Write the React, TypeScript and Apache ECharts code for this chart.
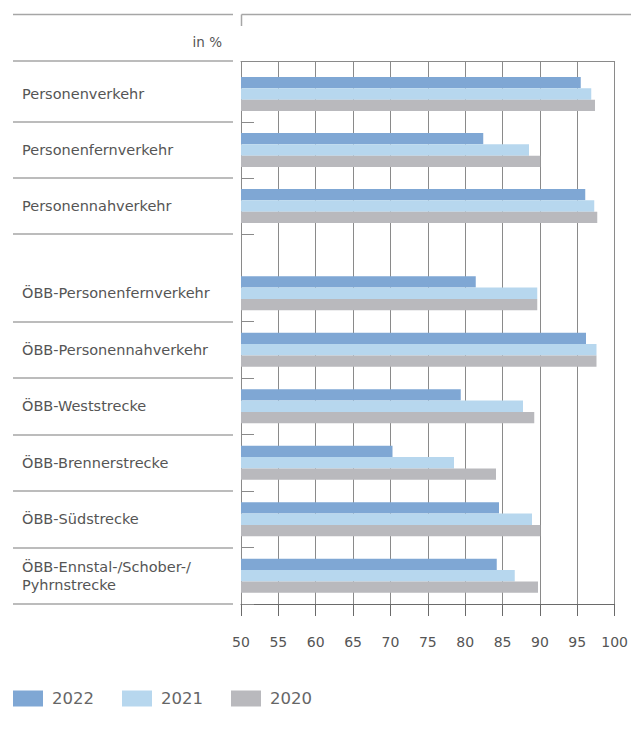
import React, { useEffect, useRef } from "react";
import * as echarts from "echarts";

const categoriesTop = ["Personenverkehr", "Personenfernverkehr", "Personennahverkehr"];
const categoriesBottom = [
  "ÖBB-Personenfernverkehr",
  "ÖBB-Personennahverkehr",
  "ÖBB-Weststrecke",
  "ÖBB-Brennerstrecke",
  "ÖBB-Südstrecke",
  "ÖBB-Ennstal-/Schober-/\nPyhrnstrecke",
];
const years = ["2022", "2021", "2020"];
const top2022 = [95.3, 82.3, 95.9];
const top2021 = [96.7, 88.4, 97.1];
const top2020 = [97.2, 89.9, 97.5];
const bottom2022 = [81.3, 96.0, 79.3, 70.2, 84.4, 84.1];
const bottom2021 = [89.5, 97.4, 87.6, 78.4, 88.8, 86.5];
const bottom2020 = [89.5, 97.4, 89.1, 84.0, 89.9, 89.6];
const axisMin = 50;
const axisMax = 100;
const axisStep = 5;
const unitLabel = "in %";

const COLORS = ["#7fa7d4", "#b7d7ee", "#b9b9bd"];
const FONT = "DejaVu Sans";

export default function App() {
  const ref = useRef<HTMLDivElement>(null);
  useEffect(() => {
    if (!ref.current) return;
    const chart = echarts.init(ref.current, undefined, { renderer: "svg" });

    const skipFirst = (i: number) => i !== 0;
    const primaryY = (data: string[]) => ({
      type: "category",
      data,
      inverse: true,
      position: "left",
      axisLine: { show: false },
      axisTick: { show: true, inside: true, length: 13, interval: skipFirst, lineStyle: { color: "#8a8a8a", width: 1 } },
      axisLabel: {
        interval: 0,
        align: "left",
        margin: 219,
        fontFamily: FONT,
        fontSize: 14.5,
        color: "#555",
        lineHeight: 17.5,
      },
      splitLine: { show: false },
    });
    const sepY = (data: string[]) => ({
      type: "category",
      data,
      inverse: true,
      position: "left",
      offset: 8,
      axisLine: { show: false },
      axisTick: { show: true, inside: false, length: 220, interval: skipFirst, lineStyle: { color: "#a6a6a6", width: 1.5 } },
      axisLabel: { show: false },
      splitLine: { show: false },
    });
    const hiddenX = (gridIndex: number) => ({
      type: "value",
      gridIndex,
      min: axisMin,
      max: axisMax,
      interval: axisStep,
      show: false,
      splitLine: { show: false },
    });

    const topSets = [top2022, top2021, top2020];
    const bottomSets = [bottom2022, bottom2021, bottom2020];
    const series: any[] = [];
    years.forEach((y, i) => {
      series.push({
        type: "bar",
        name: y,
        xAxisIndex: 2,
        yAxisIndex: 1,
        data: topSets[i],
        barWidth: 11.3,
        barGap: "0%",
        itemStyle: { color: COLORS[i] },
        silent: true,
      });
    });
    years.forEach((y, i) => {
      series.push({
        type: "bar",
        name: y,
        xAxisIndex: 3,
        yAxisIndex: 3,
        data: bottomSets[i],
        barWidth: 11.3,
        barGap: "0%",
        itemStyle: { color: COLORS[i] },
        silent: true,
      });
    });

    chart.setOption({
      animation: false,
      grid: [
        { left: 241, top: 61, width: 375, height: 543 },
        { left: 241, top: 66, width: 375, height: 168 },
        { left: 241, top: 265, width: 375, height: 339 },
      ],
      xAxis: [
        {
          type: "value",
          gridIndex: 0,
          position: "bottom",
          min: axisMin,
          max: axisMax,
          interval: axisStep,
          axisLine: { show: true, lineStyle: { color: "#6a6a6a", width: 1 } },
          axisTick: { show: true, inside: false, length: 12, lineStyle: { color: "#6a6a6a" } },
          axisLabel: { margin: 31, fontFamily: FONT, fontSize: 14, color: "#555" },
          splitLine: { show: true, lineStyle: { color: "#8a8a8a", width: 1 } },
        },
        {
          type: "value",
          gridIndex: 0,
          position: "top",
          min: axisMin,
          max: axisMax,
          interval: axisStep,
          axisLine: { show: true, lineStyle: { color: "#8a8a8a", width: 1 } },
          axisTick: { show: false },
          axisLabel: { show: false },
          splitLine: { show: false },
        },
        hiddenX(1),
        hiddenX(2),
      ],
      yAxis: [
        { type: "value", gridIndex: 0, show: false, splitLine: { show: false } },
        { ...primaryY(categoriesTop), gridIndex: 1 },
        { ...sepY(categoriesTop), gridIndex: 1 },
        { ...primaryY(categoriesBottom), gridIndex: 2 },
        { ...sepY(categoriesBottom), gridIndex: 2 },
      ],
      legend: {
        data: years,
        left: 13,
        top: 690,
        padding: 0,
        icon: "rect",
        itemWidth: 30,
        itemHeight: 16,
        itemGap: 28,
        selectedMode: false,
        textStyle: { fontFamily: FONT, fontSize: 16.5, color: "#666", padding: [0, 0, 0, 4] },
      },
      graphic: [
        { type: "line", shape: { x1: 13, y1: 14.5, x2: 233, y2: 14.5 }, style: { stroke: "#a6a6a6", lineWidth: 1.5 }, silent: true },
        { type: "line", shape: { x1: 13, y1: 61, x2: 233, y2: 61 }, style: { stroke: "#a6a6a6", lineWidth: 1.5 }, silent: true },
        { type: "line", shape: { x1: 241.5, y1: 14.5, x2: 631, y2: 14.5 }, style: { stroke: "#a6a6a6", lineWidth: 1.5 }, silent: true },
        { type: "line", shape: { x1: 241.5, y1: 14.5, x2: 241.5, y2: 26 }, style: { stroke: "#a6a6a6", lineWidth: 1.5 }, silent: true },
        {
          type: "text",
          x: 222,
          y: 42,
          style: { text: unitLabel, fontFamily: FONT, fontSize: 13.5, fill: "#555", align: "right", verticalAlign: "middle" },
          silent: true,
        },
      ],
      series,
    });
    return () => chart.dispose();
  }, []);
  return <div ref={ref} style={{ position: "fixed", left: 0, top: 0, width: 631, height: 735, background: "#fff" }} />;
}
